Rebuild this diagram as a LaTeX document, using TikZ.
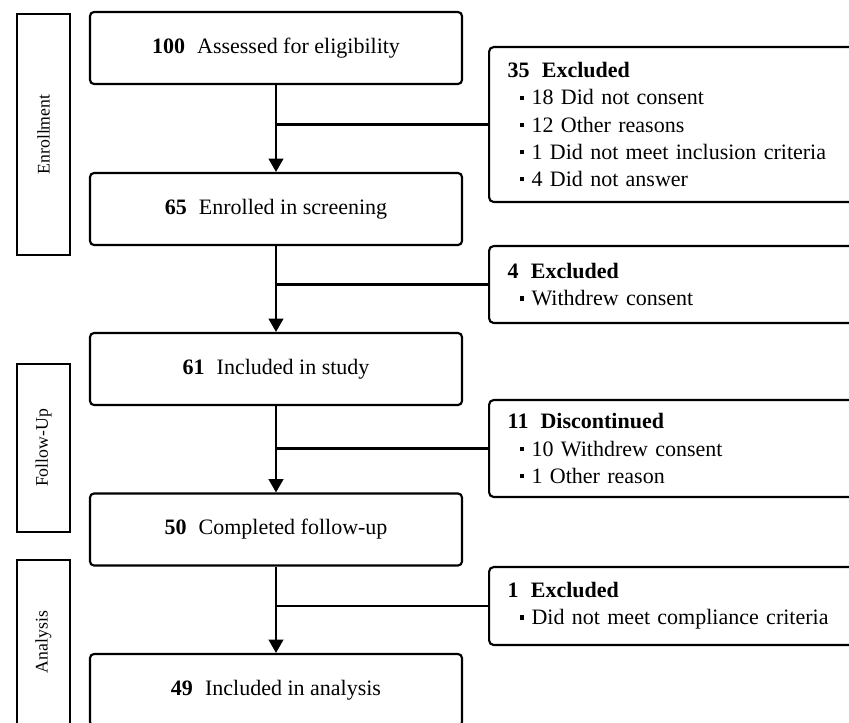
\documentclass[tikz,border=0pt]{standalone}
\usepackage{fontspec}
\setmainfont{Liberation Serif}
\usetikzlibrary{arrows.meta}
\newcommand{\bu}{\hspace*{9pt}\rule[0.22em]{3.4pt}{3.4pt}\hspace{5.5pt}}
\tikzset{
  mainbox/.style={draw, line width=1.6pt, rounded corners=3pt, minimum width=279pt, minimum height=54pt, font=\fontsize{16.5}{20}\selectfont, inner sep=0pt},
  sidebox/.style={draw, line width=1.6pt, rounded corners=3.5pt, anchor=west, text width=270pt, inner xsep=14pt, inner ysep=0pt, align=left, font=\fontsize{16.5}{20.3}\selectfont},
  phasebox/.style={draw, line width=1.6pt, minimum width=39.75pt, font=\fontsize{13.3}{16}\selectfont, inner sep=0pt},
  flow/.style={line width=1.6pt, -{Triangle[length=10pt,width=11pt]}},
  branch/.style={line width=1.6pt}
}
\begin{document}
\begin{tikzpicture}[x=0.75pt,y=-0.75pt]
\useasboundingbox (0,0) rectangle (849,722);
\clip (0,0) rectangle (849,722);
% phase labels
\node[phasebox, minimum height=180.75pt] (ph1) at (43.5,134.5) {\rotatebox{90}{Enrollment}};
\node[phasebox, minimum height=126pt] (ph2) at (43.5,448) {\rotatebox{90}{Follow-Up}};
\node[phasebox, minimum height=123pt] (ph3) at (43.5,642) {\rotatebox{90}{Analysis}};
% main boxes
\node[mainbox] (b1) at (276,48) {\textbf{100}\hspace{0.55em}Assessed for eligibility};
\node[mainbox] (b2) at (276,209) {\textbf{65}\hspace{0.55em}Enrolled in screening};
\node[mainbox] (b3) at (276,369) {\textbf{61}\hspace{0.55em}Included in study};
\node[mainbox] (b4) at (276,529.5) {\textbf{50}\hspace{0.55em}Completed follow-up};
\node[mainbox] (b5) at (276,690) {\textbf{49}\hspace{0.55em}Included in analysis};
% side boxes
\node[sidebox, minimum height=116.25pt] (e1) at (488,124.5) {\textbf{35\hspace{0.55em}Excluded}\\ \bu 18 Did not consent\\ \bu 12 Other reasons\\ \bu 1 Did not meet inclusion criteria\\ \bu 4 Did not answer};
\node[sidebox, minimum height=57.75pt] (e2) at (488,284.5) {\textbf{4\hspace{0.55em}Excluded}\\ \bu Withdrew consent};
\node[sidebox, minimum height=72.75pt] (e3) at (488,448.5) {\textbf{11\hspace{0.55em}Discontinued}\\ \bu 10 Withdrew consent\\ \bu 1 Other reason};
\node[sidebox, minimum height=58.5pt] (e4) at (488,606) {\textbf{1\hspace{0.55em}Excluded}\\ \bu Did not meet compliance criteria};
% flow arrows
\draw[flow] (b1) -- (b2);
\draw[flow] (b2) -- (b3);
\draw[flow] (b3) -- (b4);
\draw[flow] (b4) -- (b5);
% branches
\draw[branch] (e1.west) -- (e1.west -| b1.south);
\draw[branch] (e2.west) -- (e2.west -| b2.south);
\draw[branch] (e3.west) -- (e3.west -| b3.south);
\draw[branch] (e4.west) -- (e4.west -| b4.south);
\end{tikzpicture}
\end{document}
